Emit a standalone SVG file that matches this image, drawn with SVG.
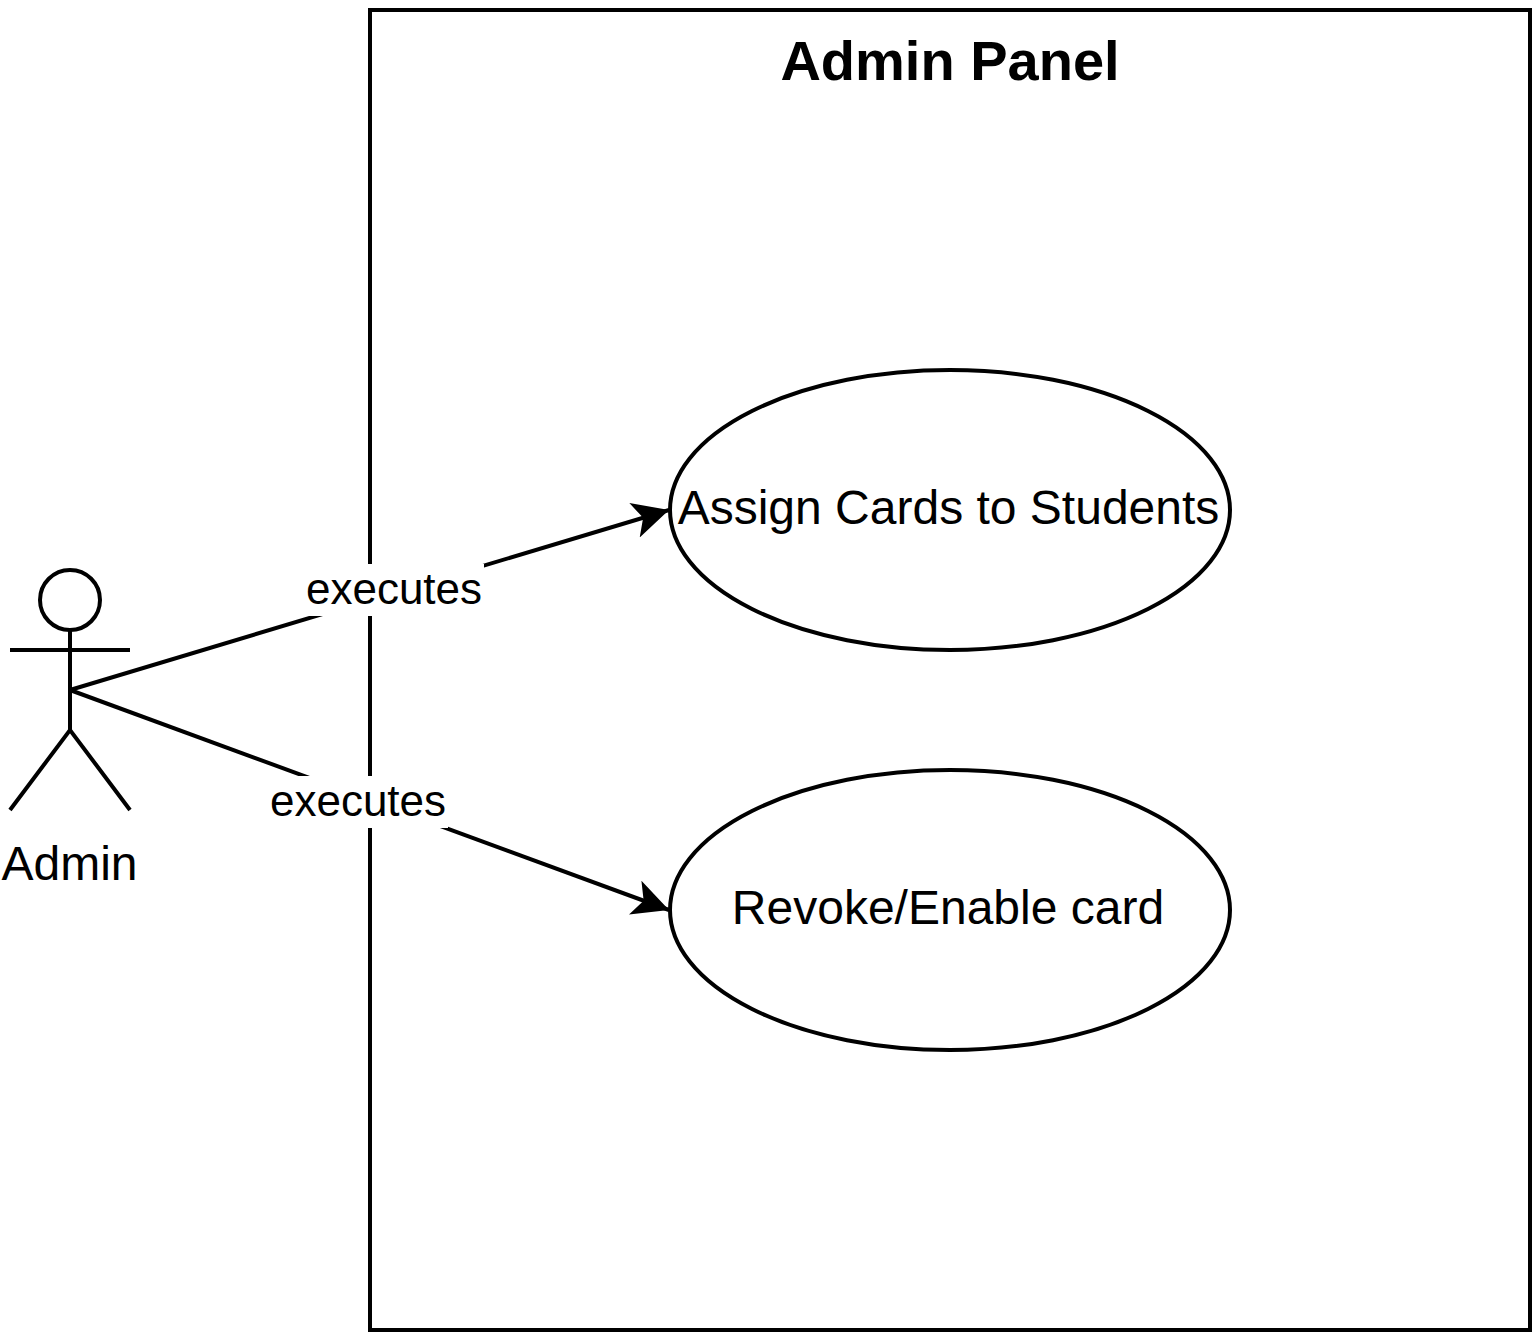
<svg xmlns="http://www.w3.org/2000/svg" width="1532" height="1332" viewBox="0 0 1532 1332">
<style>
.s{fill:none;stroke:#000;stroke-width:4;stroke-linecap:butt;stroke-linejoin:miter}
.w{fill:#fff;stroke:#000;stroke-width:4}
text{font-family:"Liberation Sans",Arial,sans-serif;fill:#000;text-anchor:middle}
.n{font-size:48px}
.l{font-size:44px}
.t{font-size:56px;font-weight:bold}
</style>
<defs><marker id="a" markerUnits="userSpaceOnUse" markerWidth="38" markerHeight="38" refX="36" refY="18" orient="auto" viewBox="0 0 38 38"><path d="M0 0L36 18L0 36L9 18Z" fill="#000"/></marker></defs>
<rect width="1532" height="1332" fill="#fff"/>
<g id="panel"><rect class="w" x="370" y="10" width="1160" height="1320"/><text class="t" x="950" y="80">Admin Panel</text></g>
<g id="assign"><ellipse class="w" cx="950" cy="510" rx="280" ry="140"/><text class="n" x="948.5" y="524">Assign Cards to Students</text></g>
<g id="revoke"><ellipse class="w" cx="950" cy="910" rx="280" ry="140"/><text class="n" x="948" y="924">Revoke/Enable card</text></g>
<g id="admin"><circle class="s" cx="70" cy="600" r="30"/><path class="s" d="M70 630V730M10 650H130M10 810L70 730L130 810"/><text class="n" x="69.500" y="880">Admin</text></g>
<g id="connectors">
<path class="s" d="M70 690L669 510" marker-end="url(#a)"/>
<path class="s" d="M70 690L669 910" marker-end="url(#a)"/>
<rect x="306" y="564" width="178" height="52" fill="#fff"/><text class="l" x="394" y="604">executes</text>
<rect x="270" y="776" width="178" height="52" fill="#fff"/><text class="l" x="358" y="816">executes</text>
</g>
</svg>
